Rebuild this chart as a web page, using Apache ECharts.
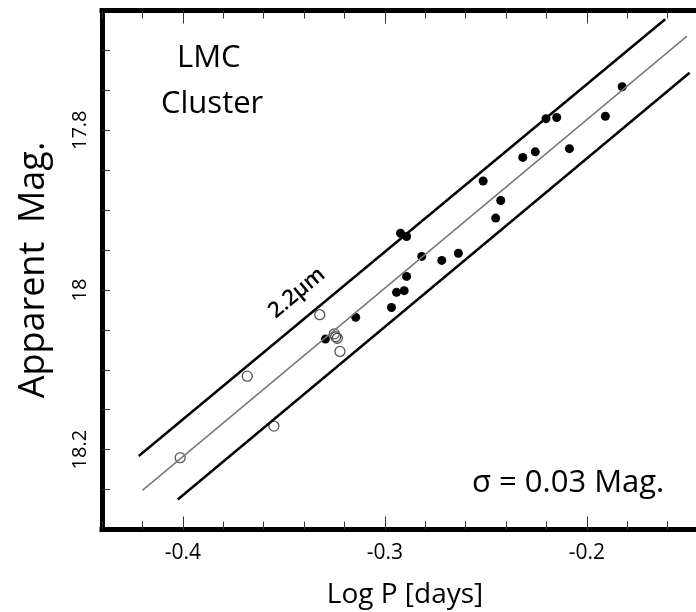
<!DOCTYPE html>
<html>
<head>
<meta charset="utf-8">
<script src="https://cdn.jsdelivr.net/npm/echarts@6/dist/echarts.min.js"></script>
<style>
html, body { margin: 0; padding: 0; background: #fff; }
#main { width: 696px; height: 612px; }
</style>
</head>
<body>
<div id="main"></div>
<script>
// filled dots
var filledLogP = [-0.3294, -0.3144, -0.2967, -0.2942, -0.2904, -0.2892, -0.2817, -0.2718, -0.2636,
                  -0.2451, -0.2426, -0.2922, -0.2892, -0.2513, -0.2317, -0.2255, -0.2086, -0.2202,
                  -0.2149, -0.1908, -0.1825];
var filledMag  = [18.0615, 18.0343, 18.022, 18.003, 18.0009, 17.983, 17.958, 17.963, 17.954,
                  17.910, 17.888, 17.929, 17.933, 17.8635, 17.834, 17.827, 17.823, 17.7855,
                  17.784, 17.7825, 17.7455];
// open circles
var openLogP = [-0.4013, -0.3681, -0.3549, -0.3322, -0.3222, -0.3250, -0.3243, -0.3235];
var openMag  = [18.210, 18.108, 18.1705, 18.031, 18.077, 18.055, 18.0586, 18.0605];
// fit line and the two bounds
var fitLine   = [[-0.4200, 18.251], [-0.1504, 17.682]];
var upperLine = [[-0.4218, 18.208], [-0.1612, 17.661]];
var lowerLine = [[-0.4025, 18.2625], [-0.1491, 17.728]];
// ticks
var xMinorTicks = [-0.44, -0.42, -0.40, -0.38, -0.36, -0.34, -0.32, -0.30, -0.28, -0.26, -0.24, -0.22, -0.20, -0.18, -0.16, -0.14];
var xMajorTicks = [-0.4, -0.3, -0.2];
var yTicks = [17.70, 17.75, 17.80, 17.85, 17.90, 17.95, 18.00, 18.05, 18.10, 18.15, 18.20, 18.25];
var yLabels = [17.8, 18.0, 18.2];

function pairs(xs, ys) {
    var out = [];
    for (var i = 0; i < xs.length; i++) out.push([xs[i], ys[i]]);
    return out;
}

var FONT = 'Open Sans';
var chart = echarts.init(document.getElementById('main'), null, { renderer: 'canvas' });

function xAxisOf(pos, ticks, len, showLine) {
    return {
        type: 'value', position: pos, min: -0.44, max: -0.14,
        axisLine: { show: showLine, onZero: false, lineStyle: { color: '#000', width: 5, cap: 'square' } },
        axisTick: { show: true, inside: true, length: len, customValues: ticks, lineStyle: { color: '#333', width: 1 } },
        axisLabel: pos === 'bottom' && showLine ? {
            show: true, customValues: xMajorTicks, margin: 13,
            fontFamily: FONT, fontSize: 21, color: '#000',
            formatter: function (v) { return (+v).toFixed(1); }
        } : { show: false },
        splitLine: { show: false },
        name: pos === 'bottom' && showLine ? 'Log P [days]' : '',
        nameLocation: 'middle', nameGap: 52,
        nameTextStyle: { fontFamily: FONT, fontSize: 28, color: '#000' }
    };
}

var option = {
    backgroundColor: '#fff',
    animation: false,
    grid: { left: 102, top: 10.5, right: -12, bottom: 82.5, outerBoundsMode: 'none', containLabel: false },
    xAxis: [
        xAxisOf('bottom', xMinorTicks, 8, true),
        xAxisOf('bottom', xMajorTicks, 13, false),
        xAxisOf('top', xMinorTicks, 8, true),
        xAxisOf('top', xMajorTicks, 13, false)
    ],
    yAxis: {
        type: 'value', inverse: true, min: 17.65, max: 18.30,
        axisLine: { show: true, onZero: false, lineStyle: { color: '#000', width: 5, cap: 'square' } },
        axisTick: { show: true, inside: true, length: 8, customValues: yTicks, lineStyle: { color: '#333', width: 1 } },
        axisLabel: {
            show: true, customValues: yLabels, rotate: 90, margin: 12,
            fontFamily: FONT, fontSize: 20, color: '#000',
            formatter: function (v) { return String(+(+v).toFixed(1)); }
        },
        splitLine: { show: false },
        name: 'Apparent  Mag.', nameLocation: 'middle', nameGap: 50,
        nameTextStyle: { fontFamily: FONT, fontSize: 36, color: '#000' }
    },
    series: [
        {
            type: 'line', data: upperLine, showSymbol: false, silent: true,
            lineStyle: { color: '#000', width: 2.5 }
        },
        {
            type: 'line', data: lowerLine, showSymbol: false, silent: true,
            lineStyle: { color: '#000', width: 2.5 }
        },
        {
            type: 'line', data: fitLine, showSymbol: false, silent: true,
            lineStyle: { color: '#777', width: 1.5 }
        },
        {
            type: 'scatter', data: pairs(openLogP, openMag), symbol: 'circle', symbolSize: 10,
            itemStyle: { color: 'rgba(0,0,0,0)', borderColor: '#555', borderWidth: 1.3, opacity: 1 }
        },
        {
            type: 'scatter', data: pairs(filledLogP, filledMag), symbol: 'circle', symbolSize: 9,
            itemStyle: { color: '#000', opacity: 1 }
        }
    ],
    graphic: [
        { type: 'text', left: 177, top: 43, style: { text: 'LMC', fontFamily: FONT, fontSize: 31, fill: '#000' } },
        { type: 'text', left: 161, top: 89, style: { text: 'Cluster', fontFamily: FONT, fontSize: 31, fill: '#000' } },
        { type: 'text', left: 472, top: 468, style: { text: 'σ = 0.03 Mag.', fontFamily: FONT, fontSize: 31, fill: '#000' } },
        {
            type: 'text', x: 297, y: 293, rotation: 0.697,
            style: { text: '2.2μm', fontFamily: FONT, fontSize: 22, fontWeight: 600, fill: '#000', align: 'center', verticalAlign: 'middle' }
        }
    ]
};
chart.setOption(option);
</script>
</body>
</html>
